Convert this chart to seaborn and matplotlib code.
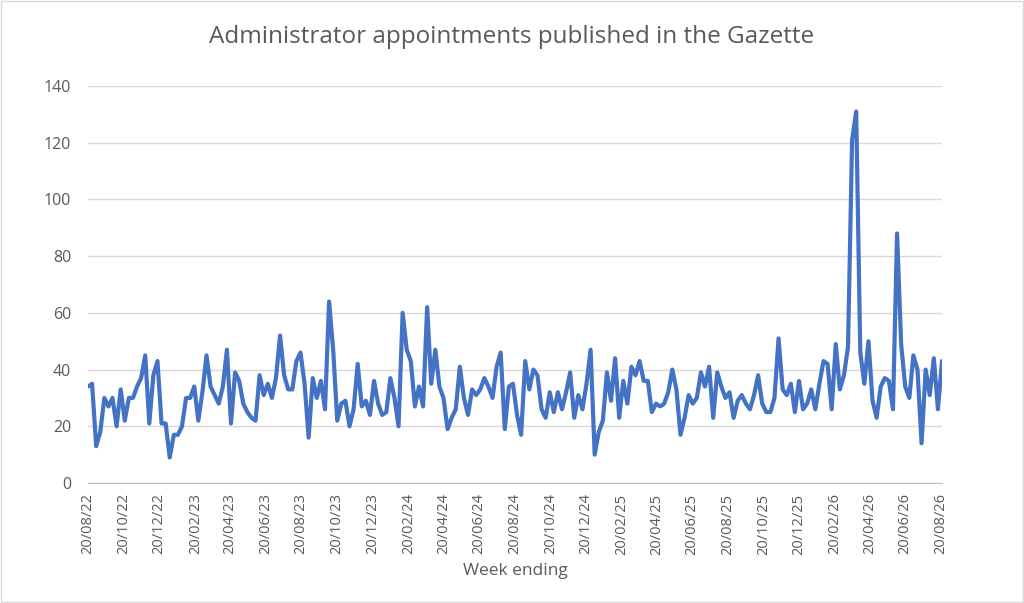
import matplotlib
matplotlib.use("Agg")
import matplotlib.pyplot as plt
import matplotlib.dates as mdates
import seaborn as sns
import pandas as pd
import numpy as np

start_date = "2022-08-20"
appointments = [
    34, 35, 13, 18, 30, 27, 30, 20, 33, 22, 30, 30, 34, 37, 45, 21, 38, 43, 21, 21,
    9, 17, 17, 20, 30, 30, 34, 22, 32, 45, 34, 31, 28, 34, 47, 21, 39, 36, 28, 25,
    23, 22, 38, 31, 35, 30, 37, 52, 38, 33, 33, 43, 46, 35, 16, 37, 30, 36, 26, 64,
    47, 22, 28, 29, 20, 26, 42, 27, 29, 24, 36, 28, 24, 25, 37, 30, 20, 60, 47, 43,
    27, 34, 27, 62, 35, 47, 34, 30, 19, 23, 26, 41, 30, 24, 33, 31, 33, 37, 34, 30,
    41, 46, 19, 34, 35, 24, 17, 43, 33, 40, 38, 26, 23, 32, 25, 32, 26, 32, 39, 23,
    31, 26, 35, 47, 10, 18, 22, 39, 29, 44, 23, 36, 28, 41, 38, 43, 36, 36, 25, 28,
    27, 28, 32, 40, 33, 17, 23, 31, 28, 30, 39, 34, 41, 23, 39, 34, 30, 32, 23, 29,
    31, 28, 26, 31, 38, 28, 25, 25, 30, 51, 33, 31, 35, 25, 36, 26, 28, 33, 26, 35,
    43, 42, 26, 49, 33, 38, 48, 121, 131, 46, 35, 50, 29, 23, 34, 37, 36, 26, 88, 49,
    34, 30, 45, 40, 14, 40, 31, 44, 26, 43,
]
tick_dates = pd.date_range("2022-08-01", "2026-08-01", freq="2MS") + pd.Timedelta(days=19)
y_ticks = [0, 20, 40, 60, 80, 100, 120, 140]

df = pd.DataFrame({
    "week": pd.date_range(start_date, periods=len(appointments), freq="7D"),
    "count": appointments,
})

sns.set_style("white")
plt.rcParams['font.family'] = ['Open Sans', 'DejaVu Sans']

fig = plt.figure(figsize=(10.24, 6.03), dpi=100)
ax = fig.add_axes([88/1024, 1 - 483/603, (942-88)/1024, (483-86)/603])

sns.lineplot(data=df, x="week", y="count", ax=ax, color="#4472C4", linewidth=3.0,
             solid_joinstyle="round", solid_capstyle="round")

gray = "#595959"
ax.set_ylim(0, 140)
ax.set_yticks(y_ticks)
ax.set_xlim(df["week"].iloc[0], max(df["week"].iloc[-1], pd.Timestamp("2026-08-20")))
ax.set_xticks(tick_dates)
ax.xaxis.set_major_formatter(mdates.DateFormatter("%d/%m/%y"))
ax.grid(axis="y", color="#D9D9D9", linewidth=1)
ax.set_axisbelow(True)
for s in ["top", "right", "left"]:
    ax.spines[s].set_visible(False)
ax.spines["bottom"].set_color("#BFBFBF")
ax.tick_params(axis="x", rotation=90, colors=gray, labelsize=10.5, length=4, color="#BFBFBF")
ax.tick_params(axis="y", colors=gray, labelsize=11.5, length=0, pad=12)
ax.set_xlabel("Week ending", color=gray, fontsize=12.5, labelpad=6)
ax.set_ylabel("")
fig.suptitle("Administrator appointments published in the Gazette", y=1 - 37/603,
             va="center", fontsize=17.5, color=gray)

fig.patches.append(plt.Rectangle((0.001, 0.001), 0.998, 0.998, transform=fig.transFigure,
                                 fill=False, edgecolor="#D9D9D9", linewidth=1))
fig.savefig("out.png", dpi=100)
